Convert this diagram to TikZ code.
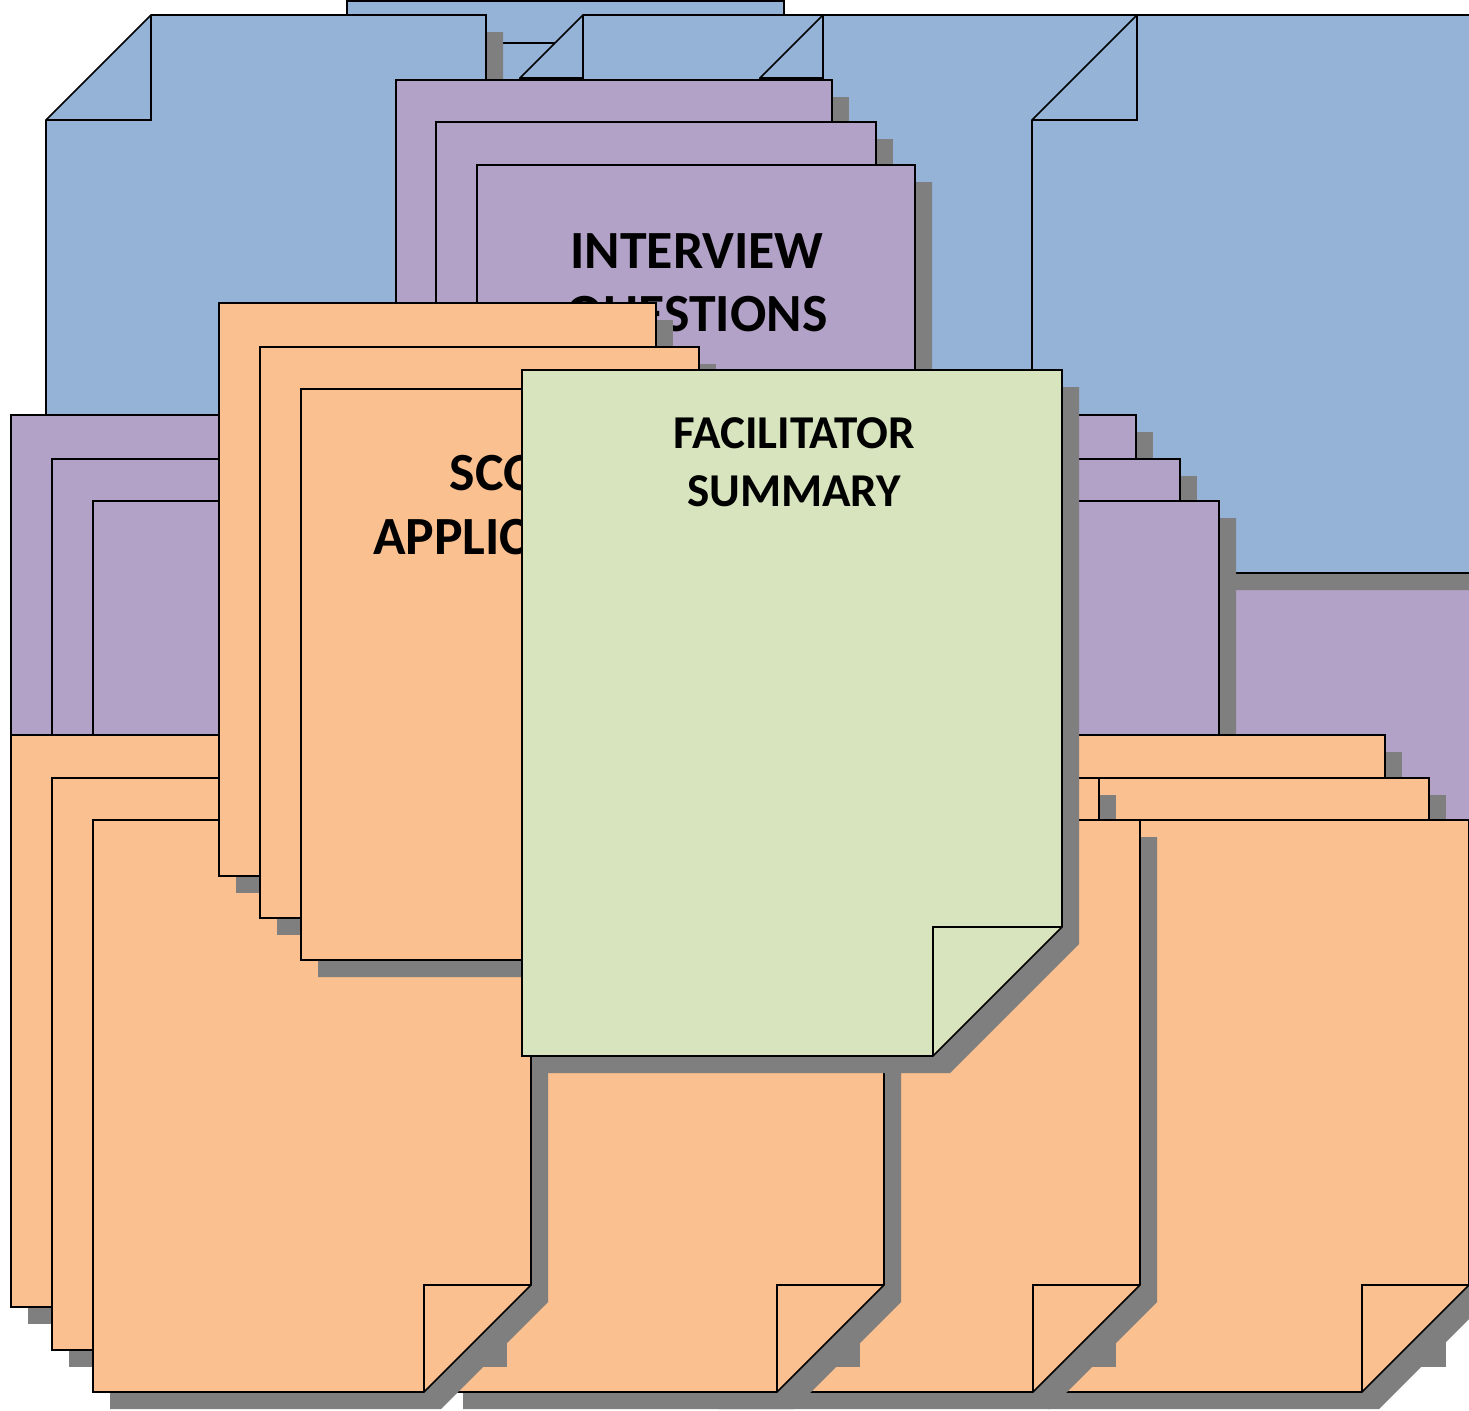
\documentclass[tikz,border=0pt]{standalone}
\usepackage{fontspec}
\setmainfont{Carlito}
\definecolor{docblue}{HTML}{95B3D7}
\definecolor{docpurple}{HTML}{B3A2C7}
\definecolor{docorange}{HTML}{FAC090}
\definecolor{docgreen}{HTML}{D7E4BD}
\definecolor{pagegray}{HTML}{7F7F7F}
\tikzset{
  sheet/.style={draw=black, line width=0.9pt},
  pageshadow/.style={fill=pagegray, shift={(17,17)}},
  biglabel/.style={anchor=base, inner sep=0pt, font=\bfseries\fontsize{30.6}{36}\selectfont},
  smalllabel/.style={anchor=base, inner sep=0pt, font=\bfseries\fontsize{26.8}{32}\selectfont},
}
% x, y, width, height, colour
\newcommand{\flatpage}[5]{%
  \fill[pageshadow] (#1,#2) rectangle ++(#3,#4);
  \draw[sheet, fill=#5] (#1,#2) rectangle ++(#3,#4);
}
% x, y, width, height, fold, colour (corner turned at bottom right)
\newcommand{\foldpage}[6]{%
  \fill[pageshadow] (#1,#2) -- ({#1+#3},#2) -- ({#1+#3},{#2+#4-#5}) -- ({#1+#3-#5},{#2+#4}) -- (#1,{#2+#4}) -- cycle;
  \draw[sheet, fill=#6] (#1,#2) -- ({#1+#3},#2) -- ({#1+#3},{#2+#4-#5}) -- ({#1+#3-#5},{#2+#4}) -- (#1,{#2+#4}) -- cycle;
  \draw[sheet] ({#1+#3-#5},{#2+#4}) -- ({#1+#3-#5},{#2+#4-#5}) -- ({#1+#3},{#2+#4-#5});
}
% x, y, width, height, fold, colour (corner turned at top left)
\newcommand{\topfoldpage}[6]{%
  \fill[pageshadow] ({#1+#5},#2) -- ({#1+#3},#2) -- ({#1+#3},{#2+#4}) -- (#1,{#2+#4}) -- (#1,{#2+#5}) -- cycle;
  \draw[sheet, fill=#6] ({#1+#5},#2) -- ({#1+#3},#2) -- ({#1+#3},{#2+#4}) -- (#1,{#2+#4}) -- (#1,{#2+#5}) -- cycle;
  \draw[sheet] (#1,{#2+#5}) -- ({#1+#5},{#2+#5}) -- ({#1+#5},#2);
}
\begin{document}
\begin{tikzpicture}[x=0.02cm, y=-0.02cm]
\useasboundingbox (0,0) rectangle (1469,1410);
\clip (0,0) rectangle (1469,1410);
% purple sheet behind the blue folders
\flatpage{1100}{440}{440}{572}{docpurple}
% blue folders
\flatpage{347}{1}{437}{572}{docblue}
\flatpage{388}{43}{438}{572}{docblue}
\topfoldpage{46}{15}{440}{558}{105}{docblue}
\topfoldpage{520}{15}{438}{558}{63}{docblue}
\topfoldpage{760}{15}{438}{558}{63}{docblue}
\topfoldpage{1032}{15}{440}{558}{105}{docblue}
% interview questions
\flatpage{396}{80}{436}{572}{docpurple}
\flatpage{436}{122}{440}{572}{docpurple}
\foldpage{477}{165}{438}{572}{107}{docpurple}
\node[biglabel] (interview) at (697,268) {INTERVIEW};
\node[biglabel] (questions) at (697,331) {QUESTIONS};
% purple stacks
\flatpage{11}{415}{438}{572}{docpurple}
\flatpage{52}{459}{438}{572}{docpurple}
\foldpage{93}{501}{438}{572}{107}{docpurple}
\flatpage{698}{415}{438}{572}{docpurple}
\flatpage{742}{459}{438}{572}{docpurple}
\foldpage{781}{501}{438}{572}{107}{docpurple}
% orange stacks, back to front
\flatpage{947}{735}{438}{572}{docorange}
\flatpage{991}{778}{438}{572}{docorange}
\foldpage{1031}{820}{438}{572}{107}{docorange}
\flatpage{620}{735}{438}{572}{docorange}
\flatpage{661}{778}{438}{572}{docorange}
\foldpage{702}{820}{438}{572}{107}{docorange}
\flatpage{364}{735}{438}{572}{docorange}
\flatpage{405}{778}{438}{572}{docorange}
\foldpage{446}{820}{438}{572}{107}{docorange}
\flatpage{11}{735}{438}{572}{docorange}
\flatpage{52}{778}{438}{572}{docorange}
\foldpage{93}{820}{438}{572}{107}{docorange}
% score applications
\flatpage{219}{303}{437}{573}{docorange}
\flatpage{260}{347}{439}{571}{docorange}
\foldpage{301}{389}{438}{571}{107}{docorange}
\node[biglabel] (score) at (523,490) {SCORE};
\node[biglabel] (applications) at (534,554) {APPLICATIONS};
% facilitator summary
\foldpage{522}{370}{540}{686}{129}{docgreen}
\node[smalllabel] (facilitator) at (794,448) {FACILITATOR};
\node[smalllabel] (summary) at (794,506) {SUMMARY};
\end{tikzpicture}
\end{document}
